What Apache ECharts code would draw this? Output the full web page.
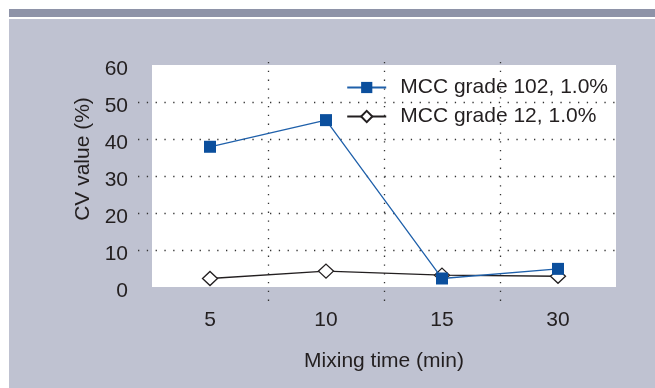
<!DOCTYPE html>
<html>
<head>
<meta charset="utf-8">
<script src="https://cdn.jsdelivr.net/npm/echarts@6/dist/echarts.min.js"></script>
<style>html,body{margin:0;padding:0;background:#fff}#c{width:655px;height:388px}</style>
</head>
<body>
<div id="c"></div>
<script>
const categories = ['5', '10', '15', '30'];
const mcc102 = [37.9, 45.1, 2.3, 4.9];
const mcc12 = [2.3, 4.3, 3.2, 2.9];
const seriesNames = ['MCC grade 102, 1.0%', 'MCC grade 12, 1.0%'];
const yMin = 0, yMax = 60, yStep = 10;

const FONT = '"Liberation Sans", Arial, sans-serif';
const TXT = '#231f20';
const FS = 21;
const dotted = { color: '#333', width: 1.3, type: [1.3, 7.5] };

const chart = echarts.init(document.getElementById('c'), null, { renderer: 'canvas' });
chart.setOption({
  backgroundColor: '#fff',
  animation: false,
  textStyle: { fontFamily: FONT },
  graphic: [
    { type: 'rect', z: -10, silent: true, shape: { x: 9, y: 9, width: 646, height: 8 }, style: { fill: '#8e93a8' } },
    { type: 'rect', z: -10, silent: true, shape: { x: 9, y: 19, width: 646, height: 369 }, style: { fill: '#bfc2d1' } }
  ],
  grid: [
    { left: 152, right: 39, top: 65, bottom: 101, show: true, backgroundColor: '#fff', borderWidth: 0, z: 0 },
    { left: 138, right: 39, top: 65, bottom: 101, z: 1 },
    { left: 152, right: 39, top: 62, bottom: 83, z: 1 }
  ],
  legend: {
    data: seriesNames,
    orient: 'vertical',
    right: 47,
    top: 77,
    padding: 0,
    itemWidth: 39,
    itemHeight: 14,
    itemGap: 8,
    textStyle: { fontFamily: FONT, fontSize: FS, color: TXT, padding: [0, 0, 0, 9] }
  },
  xAxis: [
    {
      gridIndex: 0, type: 'category', data: categories, boundaryGap: true,
      name: 'Mixing time (min)', nameLocation: 'middle', nameGap: 64,
      nameTextStyle: { fontFamily: FONT, fontSize: FS, color: TXT },
      axisLine: { show: false }, axisTick: { show: false },
      axisLabel: { fontFamily: FONT, fontSize: FS, color: TXT, margin: 23 },
      splitLine: { show: false }
    },
    {
      gridIndex: 1, type: 'category', data: categories, show: false
    },
    {
      gridIndex: 2, type: 'category', data: categories, boundaryGap: true, z: 1,
      axisLine: { show: false }, axisTick: { show: false }, axisLabel: { show: false },
      splitLine: { show: true, showMinLine: false, showMaxLine: false, lineStyle: dotted }
    }
  ],
  yAxis: [
    {
      gridIndex: 0, type: 'value', min: yMin, max: yMax, interval: yStep,
      name: 'CV value (%)', nameLocation: 'middle', nameGap: 58, nameRotate: 90,
      nameTextStyle: { fontFamily: FONT, fontSize: FS, color: TXT, padding: [0, 0, 0, 34] },
      axisLine: { show: false }, axisTick: { show: false },
      axisLabel: {
        margin: 24,
        formatter: '{v|{value}}',
        rich: { v: { fontFamily: FONT, fontSize: FS, color: TXT, padding: [8, 0, 0, 0] } }
      },
      splitLine: { show: false }
    },
    {
      gridIndex: 1, type: 'value', min: yMin, max: yMax, interval: yStep, z: 1,
      axisLine: { show: false }, axisTick: { show: false }, axisLabel: { show: false },
      splitLine: { show: true, showMinLine: false, showMaxLine: false, lineStyle: dotted }
    },
    {
      gridIndex: 2, type: 'value', min: yMin, max: yMax, show: false, splitLine: { show: false }
    }
  ],
  series: [
    {
      name: seriesNames[1], type: 'line', xAxisIndex: 0, yAxisIndex: 0, data: mcc12,
      symbol: 'diamond', symbolSize: [15, 14], showAllSymbol: true, z: 3,
      lineStyle: { color: TXT, width: 1.3 },
      itemStyle: { color: '#fff', borderColor: TXT, borderWidth: 1.3 }
    },
    {
      name: seriesNames[0], type: 'line', xAxisIndex: 0, yAxisIndex: 0, data: mcc102,
      symbol: 'rect', symbolSize: 12, showAllSymbol: true, z: 4,
      lineStyle: { color: '#1f60aa', width: 1.3 },
      itemStyle: { color: '#0b4f9d', borderWidth: 0 }
    }
  ]
});
</script>
</body>
</html>
